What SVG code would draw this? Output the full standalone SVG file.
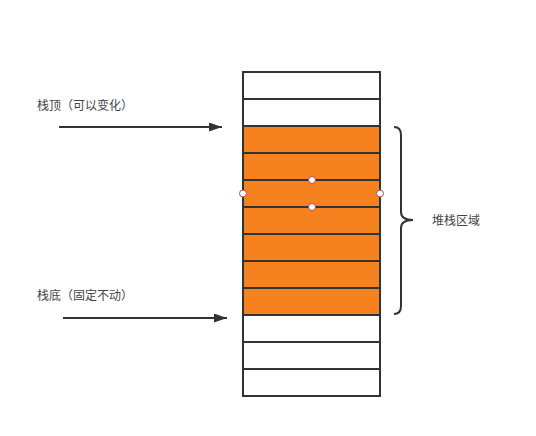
<svg xmlns="http://www.w3.org/2000/svg" width="536" height="436" viewBox="0 0 536 436">
<style>
.cell{stroke:#333;stroke-width:2}
.e{fill:#fff}
.o{fill:#f5821f}
.lbl{font-family:"Noto Sans CJK SC","Liberation Sans",sans-serif;font-size:12px;fill:#444}
.conn{stroke:#333;stroke-width:2;fill:none}
.h{fill:#fff;stroke:#b5494a;stroke-width:1}
</style>
<defs>
<marker id="ah" markerWidth="13" markerHeight="9" refX="13" refY="4.5" orient="auto" markerUnits="userSpaceOnUse" viewBox="0 0 13 9">
<path d="M0,0 L13,4.5 L0,9 Z" fill="#333"/>
</marker>
</defs>
<rect width="536" height="436" fill="#fff"/>
<g id="stack">
<rect class="cell e" x="243" y="72" width="137" height="27"/>
<rect class="cell e" x="243" y="99" width="137" height="27"/>
<rect class="cell o" x="243" y="126" width="137" height="27"/>
<rect class="cell o" x="243" y="153" width="137" height="27"/>
<rect class="cell o" x="243" y="180" width="137" height="27"/>
<rect class="cell o" x="243" y="207" width="137" height="27"/>
<rect class="cell o" x="243" y="234" width="137" height="27"/>
<rect class="cell o" x="243" y="261" width="137" height="27"/>
<rect class="cell o" x="243" y="288" width="137" height="27"/>
<rect class="cell e" x="243" y="315" width="137" height="27"/>
<rect class="cell e" x="243" y="342" width="137" height="27"/>
<rect class="cell e" x="243" y="369" width="137" height="27"/>
</g>
<g id="handles">
<circle class="h" cx="243" cy="193.5" r="3.5"/>
<circle class="h" cx="380" cy="193.5" r="3.5"/>
<circle class="h" cx="312" cy="180" r="3.5"/>
<circle class="h" cx="312" cy="207" r="3.5"/>
</g>
<g id="label-top"><text class="lbl" x="37" y="110">栈顶（可以变化）</text></g>
<g id="label-bottom"><text class="lbl" x="37" y="300">栈底（固定不动）</text></g>
<g id="label-region"><text class="lbl" x="432" y="225">堆栈区域</text></g>
<g id="connectors">
<line class="conn" x1="59" y1="127" x2="222" y2="127" marker-end="url(#ah)"/>
<line class="conn" x1="63" y1="318" x2="227" y2="318" marker-end="url(#ah)"/>
<path class="conn" d="M394,127 Q401,127 401,135 L401,212 Q401,220 413,220 Q401,220 401,228 L401,306 Q401,314 394,314"/>
</g>
</svg>
